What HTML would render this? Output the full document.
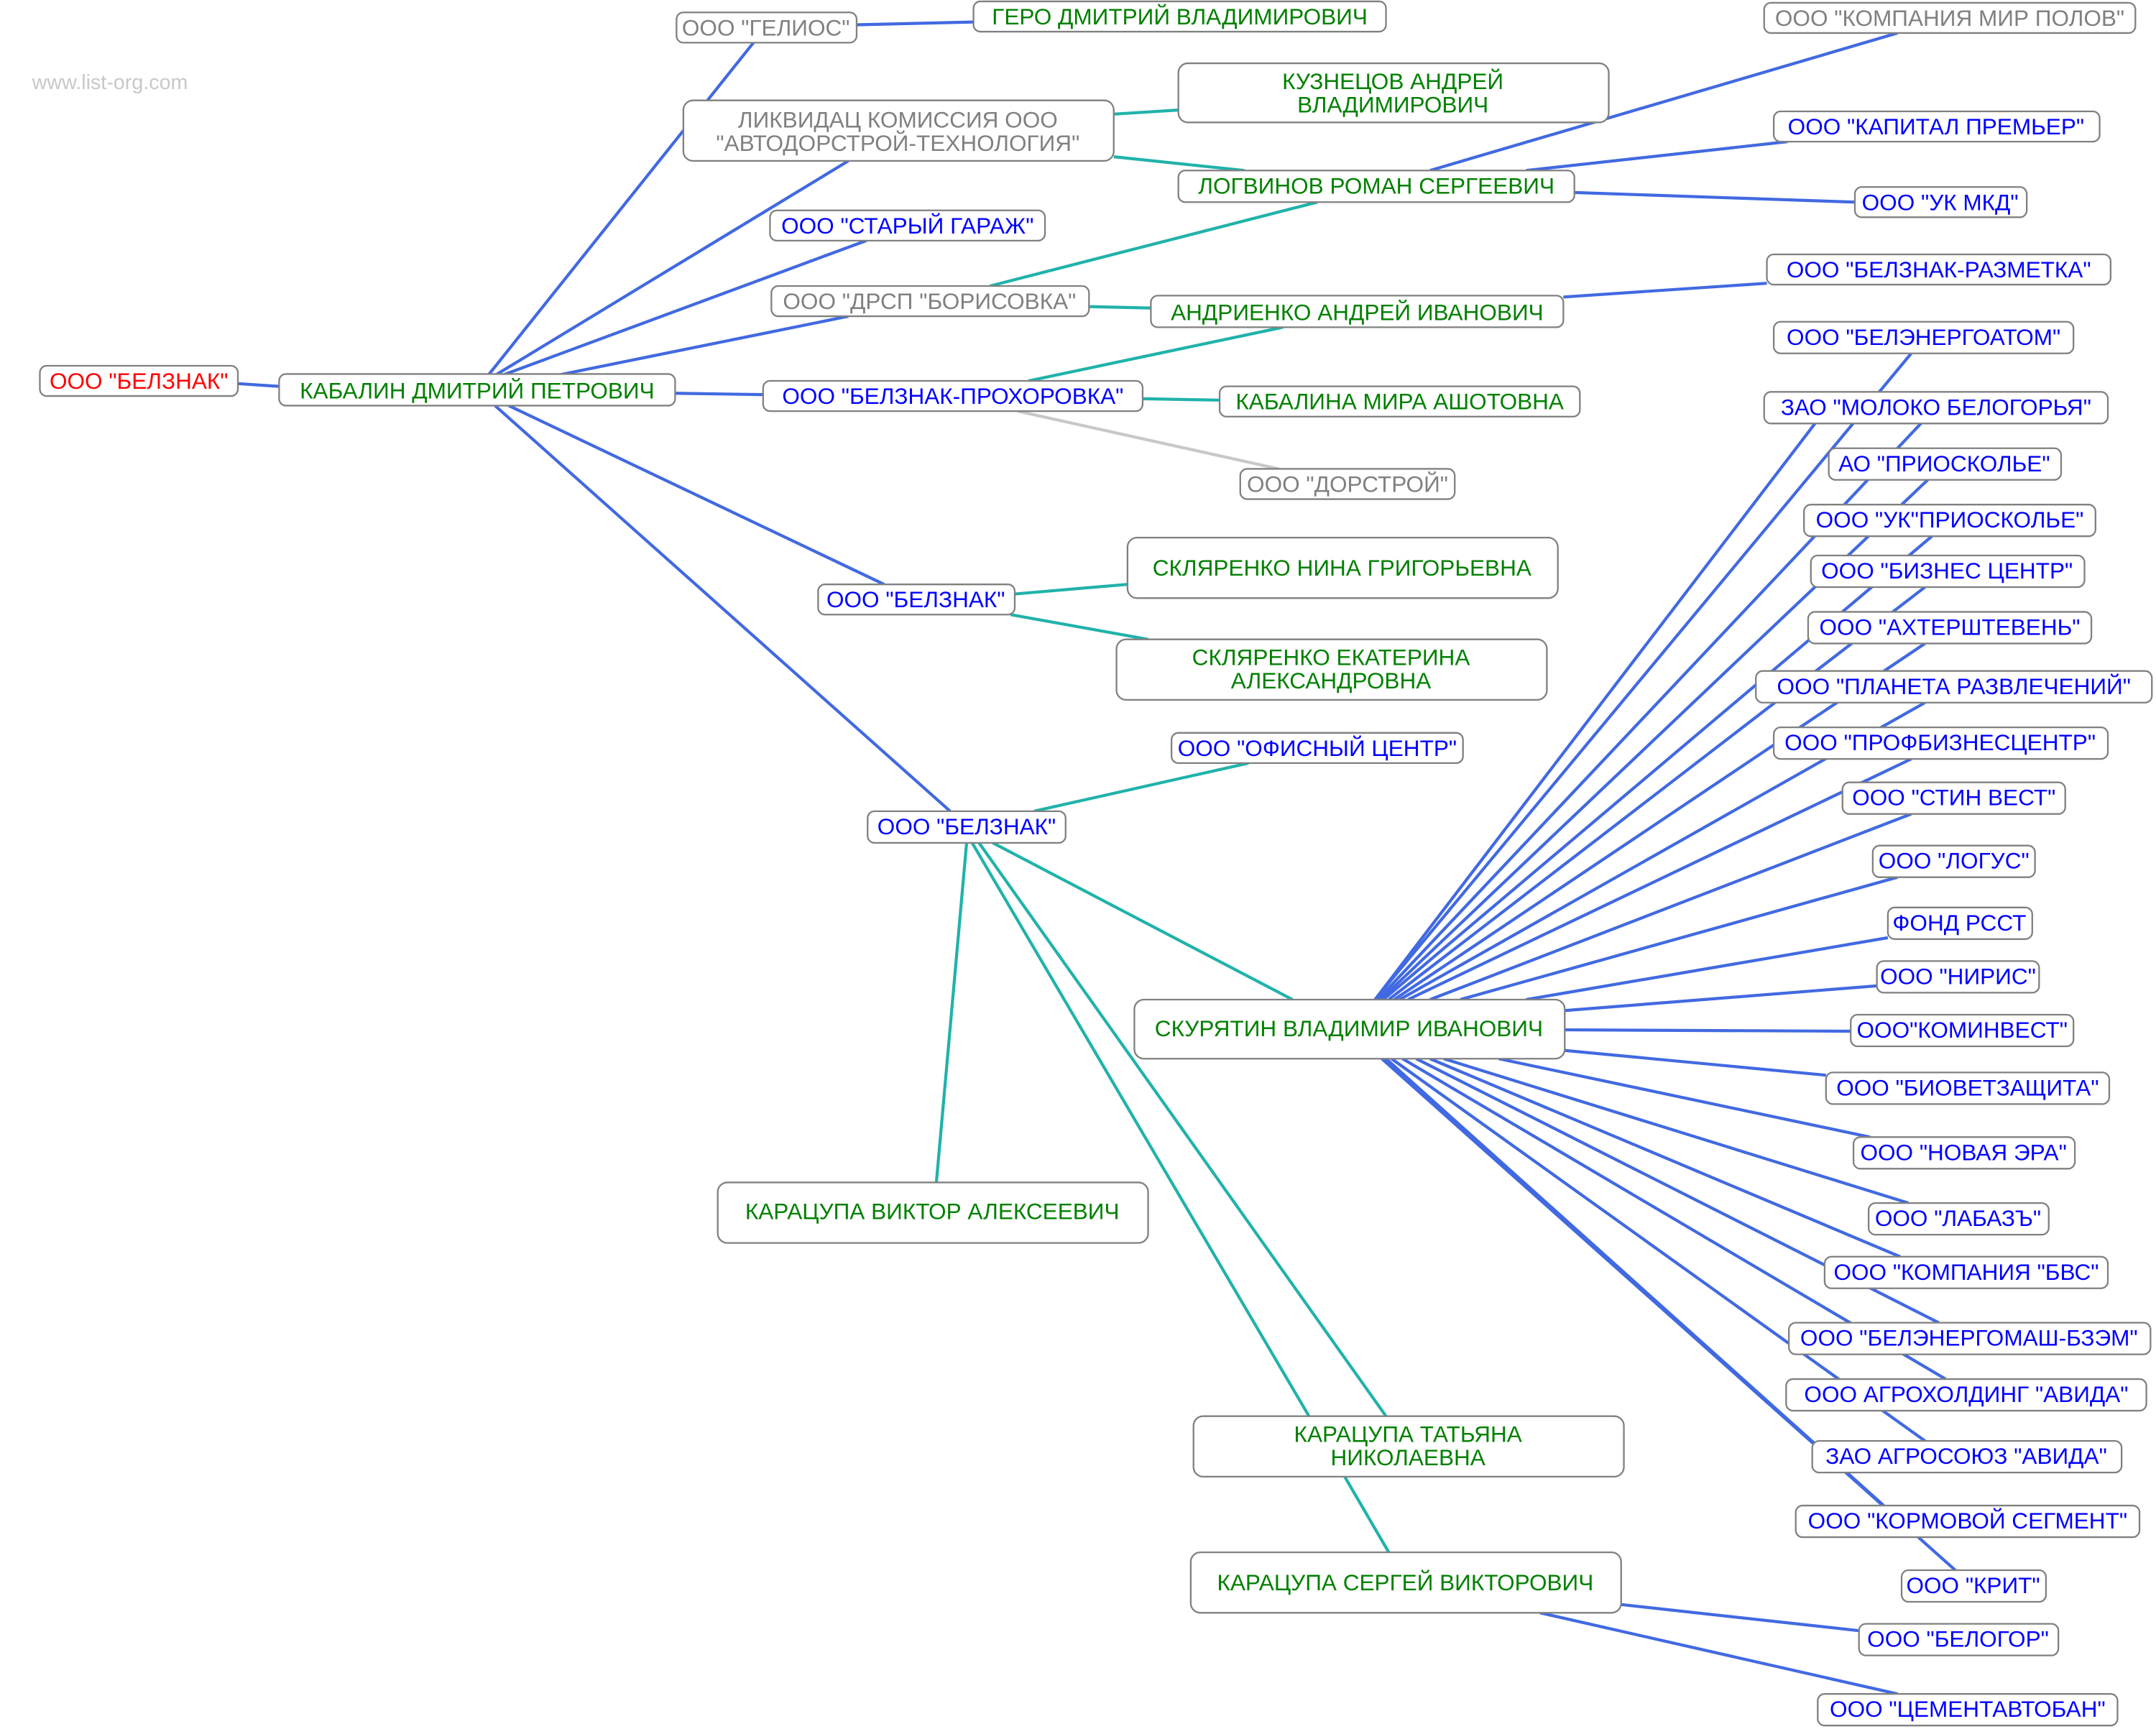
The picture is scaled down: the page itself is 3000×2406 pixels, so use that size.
<!DOCTYPE html>
<html><head><meta charset="utf-8"><style>
html,body{margin:0;padding:0;background:#fff;}
svg{display:block}
text{font-family:"Liberation Sans",Arial,sans-serif;font-size:16.5px;text-anchor:middle;dominant-baseline:central}
</style></head><body>
<svg width="3000" height="2406" viewBox="0 0 1568 1257.5" xmlns="http://www.w3.org/2000/svg">
<rect width="1568" height="1258" fill="#fff"/>
<text x="80" y="60" fill="#c8c8c8" style="font-size:15px">www.list-org.com</text>
<g stroke-width="2.2" fill="none">
<g stroke="#4169e1">
<line x1="173" y1="279" x2="203" y2="281"/>
<line x1="355" y1="273" x2="548" y2="31"/>
<line x1="623" y1="18" x2="708" y2="16"/>
<line x1="360" y1="273" x2="617" y2="117"/>
<line x1="365" y1="273" x2="630" y2="175"/>
<line x1="405" y1="273" x2="617" y2="230"/>
<line x1="491" y1="286" x2="555" y2="287"/>
<line x1="370" y1="295" x2="643" y2="425"/>
<line x1="360" y1="295" x2="691" y2="590"/>
<line x1="1040" y1="124" x2="1380" y2="24"/>
<line x1="1110" y1="124" x2="1300" y2="103"/>
<line x1="1145" y1="140" x2="1349" y2="147"/>
<line x1="1137" y1="216" x2="1285" y2="206"/>
<line x1="1000" y1="727" x2="1390" y2="257"/>
<line x1="1000" y1="727" x2="1320" y2="308"/>
<line x1="1002" y1="727" x2="1397" y2="308"/>
<line x1="1004" y1="727" x2="1402" y2="349"/>
<line x1="1006" y1="727" x2="1405" y2="390"/>
<line x1="1010" y1="727" x2="1400" y2="427"/>
<line x1="1014" y1="727" x2="1400" y2="468"/>
<line x1="1018" y1="727" x2="1400" y2="511"/>
<line x1="1024" y1="727" x2="1390" y2="552"/>
<line x1="1040" y1="727" x2="1390" y2="592"/>
<line x1="1062" y1="727" x2="1380" y2="638"/>
<line x1="1110" y1="727" x2="1373" y2="682"/>
<line x1="1138" y1="735" x2="1365" y2="717"/>
<line x1="1138" y1="749" x2="1346" y2="750"/>
<line x1="1138" y1="764" x2="1328" y2="782"/>
<line x1="1090" y1="770" x2="1360" y2="827"/>
<line x1="1050" y1="770" x2="1388" y2="875"/>
<line x1="1040" y1="770" x2="1382" y2="914"/>
<line x1="1030" y1="770" x2="1410" y2="962"/>
<line x1="1020" y1="770" x2="1415" y2="1003"/>
<line x1="1012" y1="770" x2="1400" y2="1048"/>
<line x1="1008" y1="770" x2="1370" y2="1095"/>
<line x1="1005" y1="770" x2="1422" y2="1142"/>
<line x1="1179" y1="1167" x2="1352" y2="1186"/>
<line x1="1120" y1="1173" x2="1380" y2="1232"/>
</g>
<g stroke="#20b2aa">
<line x1="810" y1="83" x2="857" y2="80"/>
<line x1="810" y1="114" x2="905" y2="124"/>
<line x1="720" y1="208" x2="958" y2="147"/>
<line x1="792" y1="223" x2="837" y2="224"/>
<line x1="748" y1="277" x2="933" y2="238"/>
<line x1="831" y1="290" x2="887" y2="291"/>
<line x1="738" y1="432" x2="820" y2="425"/>
<line x1="735" y1="447" x2="835" y2="465"/>
<line x1="752" y1="590" x2="908" y2="555"/>
<line x1="722" y1="613" x2="940" y2="727"/>
<line x1="703" y1="613" x2="681" y2="860"/>
<line x1="712" y1="613" x2="1008" y2="1030"/>
<line x1="707" y1="613" x2="952" y2="1030"/>
<line x1="978" y1="1074" x2="1010" y2="1129"/>
</g>
<line x1="740" y1="299" x2="930" y2="341" stroke="#c8c8c8"/>
</g>
<g stroke="#808080" stroke-width="1.2" fill="#fff">
<rect x="29" y="266" width="144" height="22" rx="5"/>
<rect x="203" y="272" width="288" height="23" rx="5"/>
<rect x="492" y="9" width="131" height="22" rx="5"/>
<rect x="708" y="1" width="300" height="22" rx="5"/>
<rect x="497" y="73" width="313" height="44" rx="7"/>
<rect x="857" y="46" width="313" height="43" rx="7"/>
<rect x="857" y="124" width="288" height="23" rx="5"/>
<rect x="1283" y="2" width="270" height="22" rx="5"/>
<rect x="1290" y="81" width="237" height="22" rx="5"/>
<rect x="1349" y="136" width="125" height="22" rx="5"/>
<rect x="560" y="153" width="200" height="22" rx="5"/>
<rect x="561" y="208" width="231" height="22" rx="5"/>
<rect x="837" y="215" width="300" height="23" rx="5"/>
<rect x="1285" y="185" width="250" height="22" rx="5"/>
<rect x="555" y="277" width="276" height="22" rx="5"/>
<rect x="887" y="281" width="262" height="22" rx="5"/>
<rect x="902" y="341" width="156" height="22" rx="5"/>
<rect x="595" y="425" width="143" height="22" rx="5"/>
<rect x="820" y="391" width="313" height="44" rx="7"/>
<rect x="812" y="465" width="313" height="44" rx="7"/>
<rect x="852" y="533" width="212" height="22" rx="5"/>
<rect x="631" y="590" width="144" height="23" rx="5"/>
<rect x="825" y="727" width="313" height="43" rx="7"/>
<rect x="522" y="860" width="313" height="44" rx="7"/>
<rect x="868" y="1030" width="313" height="44" rx="7"/>
<rect x="866" y="1129" width="313" height="44" rx="7"/>
<rect x="1290" y="234" width="218" height="23" rx="5"/>
<rect x="1283" y="285" width="250" height="23" rx="5"/>
<rect x="1330" y="326" width="169" height="23" rx="5"/>
<rect x="1312" y="367" width="212" height="23" rx="5"/>
<rect x="1317" y="404" width="199" height="23" rx="5"/>
<rect x="1315" y="445" width="206" height="23" rx="5"/>
<rect x="1277" y="488" width="288" height="23" rx="5"/>
<rect x="1290" y="529" width="243" height="23" rx="5"/>
<rect x="1340" y="569" width="162" height="23" rx="5"/>
<rect x="1362" y="615" width="118" height="23" rx="5"/>
<rect x="1373" y="660" width="105" height="23" rx="5"/>
<rect x="1365" y="699" width="118" height="23" rx="5"/>
<rect x="1346" y="738" width="162" height="23" rx="5"/>
<rect x="1328" y="780" width="206" height="23" rx="5"/>
<rect x="1348" y="827" width="161" height="23" rx="5"/>
<rect x="1359" y="875" width="131" height="23" rx="5"/>
<rect x="1327" y="914" width="206" height="23" rx="5"/>
<rect x="1301" y="962" width="263" height="23" rx="5"/>
<rect x="1299" y="1003" width="262" height="23" rx="5"/>
<rect x="1318" y="1048" width="225" height="23" rx="5"/>
<rect x="1306" y="1095" width="250" height="23" rx="5"/>
<rect x="1383" y="1142" width="105" height="23" rx="5"/>
<rect x="1352" y="1181" width="145" height="23" rx="5"/>
<rect x="1322" y="1232" width="218" height="23" rx="5"/>
</g>
<g fill="#ff0000"><text x="101" y="277">ООО "БЕЛЗНАК"</text></g>
<g fill="#008000">
<text x="347" y="284">КАБАЛИН ДМИТРИЙ ПЕТРОВИЧ</text>
<text x="858" y="12">ГЕРО ДМИТРИЙ ВЛАДИМИРОВИЧ</text>
<text x="1013" y="59">КУЗНЕЦОВ АНДРЕЙ</text>
<text x="1013" y="76">ВЛАДИМИРОВИЧ</text>
<text x="1001" y="135">ЛОГВИНОВ РОМАН СЕРГЕЕВИЧ</text>
<text x="987" y="227">АНДРИЕНКО АНДРЕЙ ИВАНОВИЧ</text>
<text x="1018" y="292">КАБАЛИНА МИРА АШОТОВНА</text>
<text x="976" y="413">СКЛЯРЕНКО НИНА ГРИГОРЬЕВНА</text>
<text x="968" y="478">СКЛЯРЕНКО ЕКАТЕРИНА</text>
<text x="968" y="495">АЛЕКСАНДРОВНА</text>
<text x="981" y="748">СКУРЯТИН ВЛАДИМИР ИВАНОВИЧ</text>
<text x="678" y="881">КАРАЦУПА ВИКТОР АЛЕКСЕЕВИЧ</text>
<text x="1024" y="1043">КАРАЦУПА ТАТЬЯНА</text>
<text x="1024" y="1060">НИКОЛАЕВНА</text>
<text x="1022" y="1151">КАРАЦУПА СЕРГЕЙ ВИКТОРОВИЧ</text>
</g>
<g fill="#808080">
<text x="557" y="20">ООО "ГЕЛИОС"</text>
<text x="653" y="87">ЛИКВИДАЦ КОМИССИЯ ООО</text>
<text x="653" y="104">"АВТОДОРСТРОЙ-ТЕХНОЛОГИЯ"</text>
<text x="1418" y="13">ООО "КОМПАНИЯ МИР ПОЛОВ"</text>
<text x="676" y="219">ООО "ДРСП "БОРИСОВКА"</text>
<text x="980" y="352">ООО "ДОРСТРОЙ"</text>
</g>
<g fill="#0000ff">
<text x="1408" y="92">ООО "КАПИТАЛ ПРЕМЬЕР"</text>
<text x="1411" y="147">ООО "УК МКД"</text>
<text x="660" y="164">ООО "СТАРЫЙ ГАРАЖ"</text>
<text x="1410" y="196">ООО "БЕЛЗНАК-РАЗМЕТКА"</text>
<text x="693" y="288">ООО "БЕЛЗНАК-ПРОХОРОВКА"</text>
<text x="666" y="436">ООО "БЕЛЗНАК"</text>
<text x="958" y="544">ООО "ОФИСНЫЙ ЦЕНТР"</text>
<text x="703" y="601">ООО "БЕЛЗНАК"</text>
<text x="1399" y="245">ООО "БЕЛЭНЕРГОАТОМ"</text>
<text x="1408" y="296">ЗАО "МОЛОКО БЕЛОГОРЬЯ"</text>
<text x="1414" y="337">АО "ПРИОСКОЛЬЕ"</text>
<text x="1418" y="378">ООО "УК"ПРИОСКОЛЬЕ"</text>
<text x="1416" y="415">ООО "БИЗНЕС ЦЕНТР"</text>
<text x="1418" y="456">ООО "АХТЕРШТЕВЕНЬ"</text>
<text x="1421" y="499">ООО "ПЛАНЕТА РАЗВЛЕЧЕНИЙ"</text>
<text x="1411" y="540">ООО "ПРОФБИЗНЕСЦЕНТР"</text>
<text x="1421" y="580">ООО "СТИН ВЕСТ"</text>
<text x="1421" y="626">ООО "ЛОГУС"</text>
<text x="1425" y="671">ФОНД РССТ</text>
<text x="1424" y="710">ООО "НИРИС"</text>
<text x="1427" y="749">ООО"КОМИНВЕСТ"</text>
<text x="1431" y="791">ООО "БИОВЕТЗАЩИТА"</text>
<text x="1428" y="838">ООО "НОВАЯ ЭРА"</text>
<text x="1424" y="886">ООО "ЛАБАЗЪ"</text>
<text x="1430" y="925">ООО "КОМПАНИЯ "БВС"</text>
<text x="1432" y="973">ООО "БЕЛЭНЕРГОМАШ-БЗЭМ"</text>
<text x="1430" y="1014">ООО АГРОХОЛДИНГ "АВИДА"</text>
<text x="1430" y="1059">ЗАО АГРОСОЮЗ "АВИДА"</text>
<text x="1431" y="1106">ООО "КОРМОВОЙ СЕГМЕНТ"</text>
<text x="1435" y="1153">ООО "КРИТ"</text>
<text x="1424" y="1192">ООО "БЕЛОГОР"</text>
<text x="1431" y="1243">ООО "ЦЕМЕНТАВТОБАН"</text>
</g>
</svg>
</body></html>
